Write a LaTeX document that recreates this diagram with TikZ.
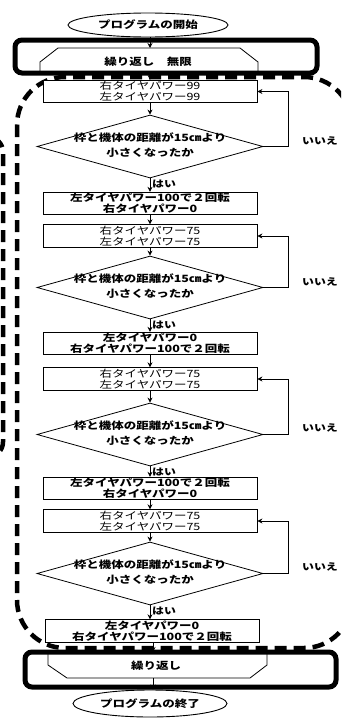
\documentclass[tikz,border=0pt]{standalone}
\usepackage{fontspec}
\setmainfont{Noto Sans CJK JP}[FakeStretch=1.25]
\usetikzlibrary{shapes.geometric,arrows.meta}
\begin{document}
\begin{tikzpicture}[x=1pt,y=-1pt,
  font=\fontsize{10}{11}\selectfont,
  box/.style={draw,fill=white,line width=0.8pt,minimum width=214pt,minimum height=22.5pt,inner sep=0pt,align=center},
  bbox/.style={box,font=\fontsize{10}{11}\selectfont\bfseries},
  dia/.style={draw,line width=0.8pt,diamond,minimum width=226pt,minimum height=63pt,inner sep=0pt},
  dtext/.style={align=center,inner sep=0pt,font=\fontsize{10}{14.5}\selectfont\bfseries},
  term/.style={draw,ellipse,line width=0.9pt,fill=white,inner sep=0pt,font=\fontsize{10}{11}\selectfont\bfseries},
  frame/.style={draw,line width=5pt,rounded corners=7pt,inner sep=0pt},
  hex/.style={line width=0.8pt},
  arr/.style={-{Stealth[length=5pt,width=5pt]},line width=0.8pt},
  lbl/.style={inner sep=0pt,font=\fontsize{9.5}{11}\selectfont\bfseries},
  dashbig/.style={line width=4.5pt,dash pattern=on 12pt off 7pt}
]
\useasboundingbox (0,0) rectangle (341,720);
\clip (0,0) rectangle (341,720);

% dashed boundaries
\draw[dashbig,rounded corners=48pt] (17,77) rectangle (352,648);
\draw[dashbig,rounded corners=15pt] (-60,137) rectangle (3,457);

% start
\node[term,minimum width=160pt,minimum height=24pt] (S) at (148,25) {プログラムの開始};

% top loop
\node[frame,minimum width=302pt,minimum height=33pt] (L1) at (166,56.5) {};
\draw[hex] (40,73) -- (40,62) -- (58,48) -- (240,48) -- (258,62) -- (258,73);
\node[lbl,font=\fontsize{10}{11}\selectfont\bfseries] (L1t) at (148,62) {繰り返し　無限};
\coordinate (h1) at (150,48);
\draw[arr] (S.south -| h1) -- (h1);

% boxes and decisions
\node[box] (b1) at (150,91.5) {右タイヤパワー99\\左タイヤパワー99};
\node[dia] (d1) at (150,146.5) {};
\node[dtext] at (150,145) {枠と機体の距離が15㎝より\\小さくなったか};
\node[bbox] (b2) at (150,203.5) {左タイヤパワー100で２回転\\右タイヤパワー0};
\node[box] (b3) at (150,236) {右タイヤパワー75\\左タイヤパワー75};
\node[dia] (d2) at (150,287.5) {};
\node[dtext] at (150,286) {枠と機体の距離が15㎝より\\小さくなったか};
\node[bbox] (b4) at (150,343.5) {左タイヤパワー0\\右タイヤパワー100で２回転};
\node[box] (b5) at (150,379) {右タイヤパワー75\\左タイヤパワー75};
\node[dia] (d3) at (150,434.5) {};
\node[dtext] at (150,433) {枠と機体の距離が15㎝より\\小さくなったか};
\node[bbox] (b6) at (150,488.5) {左タイヤパワー100で２回転\\右タイヤパワー0};
\node[box] (b7) at (150,521) {右タイヤパワー75\\左タイヤパワー75};
\node[dia] (d4) at (150,573.5) {};
\node[dtext] at (150,572) {枠と機体の距離が15㎝より\\小さくなったか};
\node[bbox] (b8) at (152,631) {左タイヤパワー0\\右タイヤパワー100で２回転};

% bottom loop
\node[frame,minimum width=311pt,minimum height=35pt] (L2) at (180.5,669.5) {};
\draw[hex] (48,652) -- (48,665) -- (67,678) -- (250,678) -- (267,665) -- (267,652);
\node[lbl,font=\fontsize{10}{11}\selectfont\bfseries] (L2t) at (156,666) {繰り返し};

% end
\node[term,minimum width=154pt,minimum height=27pt] (E) at (150,703.5) {プログラムの終了};

% connectors
\draw[arr] (b1.north |- L1.south) -- (b1.north);
\draw[arr] (b1) -- (d1);
\draw[arr] (d1) -- (b2);
\draw[arr] (b2) -- (b3);
\draw[arr] (b3) -- (d2);
\draw[arr] (d2) -- (b4);
\draw[arr] (b4) -- (b5);
\draw[arr] (b5) -- (d3);
\draw[arr] (d3) -- (b6);
\draw[arr] (b6) -- (b7);
\draw[arr] (b7) -- (d4);
\draw[arr] (d4.south) -- (d4.south |- b8.north);
\coordinate (h2) at (153,652);
\draw[arr] (b8.south -| h2) -- (h2);
\coordinate (h3) at (153,678);
\draw[arr] (h3) -- (h3 |- E.north);

% loops back
\draw[arr] (d1.east) -- ++(25,0) |- (b1.east);
\draw[arr] (d2.east) -- ++(25,0) |- (b3.east);
\draw[arr] (d3.east) -- ++(25,0) |- (b5.east);
\draw[arr] (d4.east) -- ++(25,0) |- (b7.east);

% labels
\node[lbl,anchor=west] (y1) at ([xshift=2pt,yshift=-5.5pt]d1.south) {はい};
\node[lbl,anchor=west] (y2) at ([xshift=2pt,yshift=-5.5pt]d2.south) {はい};
\node[lbl,anchor=west] (y3) at ([xshift=2pt,yshift=-5.5pt]d3.south) {はい};
\node[lbl,anchor=west] (y4) at ([xshift=2pt,yshift=-5.5pt]d4.south) {はい};
\node[lbl,anchor=west] (n1) at (302,141) {いいえ};
\node[lbl,anchor=west] (n2) at (302,282) {いいえ};
\node[lbl,anchor=west] (n3) at (302,428) {いいえ};
\node[lbl,anchor=west] (n4) at (302,567) {いいえ};
\end{tikzpicture}
\end{document}
